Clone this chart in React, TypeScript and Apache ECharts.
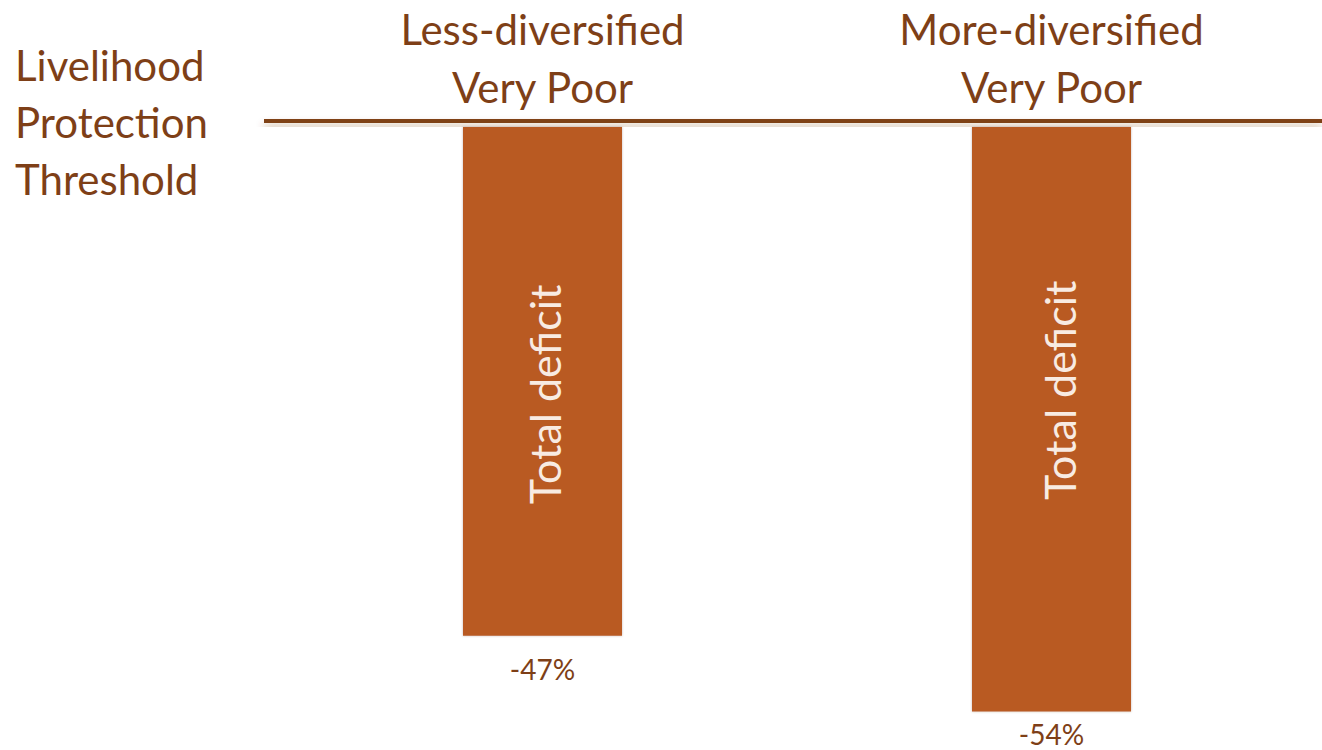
import React, { useEffect, useRef } from "react";
import * as echarts from "echarts";

const categories = ["Less-diversified\nVery Poor", "More-diversified\nVery Poor"];
const deficitValues = [-47, -54];
const labelShifts = [-13, 29];
const labelSideShifts = [2, 8];
const valueLabelGaps = [19, 8];
const thresholdLabel = "Livelihood\nProtection\nThreshold";
const barText = "Total deficit";

const TEXT = "#7e3f17";
const BAR = "#b95a24";
const LINE = "#7f4319";
const FONT = "Lato, 'Open Sans', sans-serif";

export default function App() {
  const ref = useRef<HTMLDivElement>(null);
  useEffect(() => {
    if (!ref.current) return;
    const chart = echarts.init(ref.current, undefined, { renderer: "svg" });
    chart.setOption({
      animation: false,
      backgroundColor: "#ffffff",
      title: {
        text: thresholdLabel,
        left: 10,
        top: 31,
        textStyle: { color: TEXT, fontSize: 42, fontWeight: "normal", fontFamily: FONT, lineHeight: 57 },
      },
      grid: { left: 288, right: 16, top: 121, bottom: 6 },
      xAxis: {
        type: "category",
        position: "top",
        data: categories,
        axisLine: { show: false },
        axisTick: { show: false },
        axisLabel: { color: TEXT, fontSize: 42, fontFamily: FONT, lineHeight: 58, margin: 11 },
      },
      yAxis: { type: "value", min: -57, max: 0, show: false, splitLine: { show: false } },
      series: [
        {
          type: "bar",
          data: deficitValues.map((v, i) => ({ value: v, label: { distance: valueLabelGaps[i] } })),
          barWidth: 159,
          itemStyle: { color: BAR, shadowBlur: 2, shadowColor: "rgba(90,60,40,0.35)" },
          label: {
            show: true,
            position: "bottom",
            formatter: (p: any) => `${p.value}%`,
            color: TEXT,
            fontSize: 28,
            lineHeight: 28,
            fontFamily: FONT,
          },
        },
        {
          type: "bar",
          data: deficitValues.map((v, i) => ({ value: v, label: { offset: [labelShifts[i], labelSideShifts[i]] } })),
          barWidth: 159,
          barGap: "-100%",
          itemStyle: { color: "rgba(0,0,0,0)" },
          label: {
            show: true,
            position: "inside",
            rotate: 90,
            formatter: barText,
            color: "#f8ebe2",
            fontSize: 43,
            fontFamily: FONT,
          },
        },
      ],
      graphic: [
        {
          type: "rect",
          shape: { x: 264, y: 119, width: 1058, height: 4 },
          style: { fill: LINE, shadowBlur: 9, shadowColor: "rgba(127,67,25,0.45)", shadowOffsetY: 6 },
          z: 100,
        },
      ],
    });
    return () => chart.dispose();
  }, []);
  return <div ref={ref} style={{ position: "fixed", left: 0, top: 0, width: 1322, height: 750 }} />;
}
